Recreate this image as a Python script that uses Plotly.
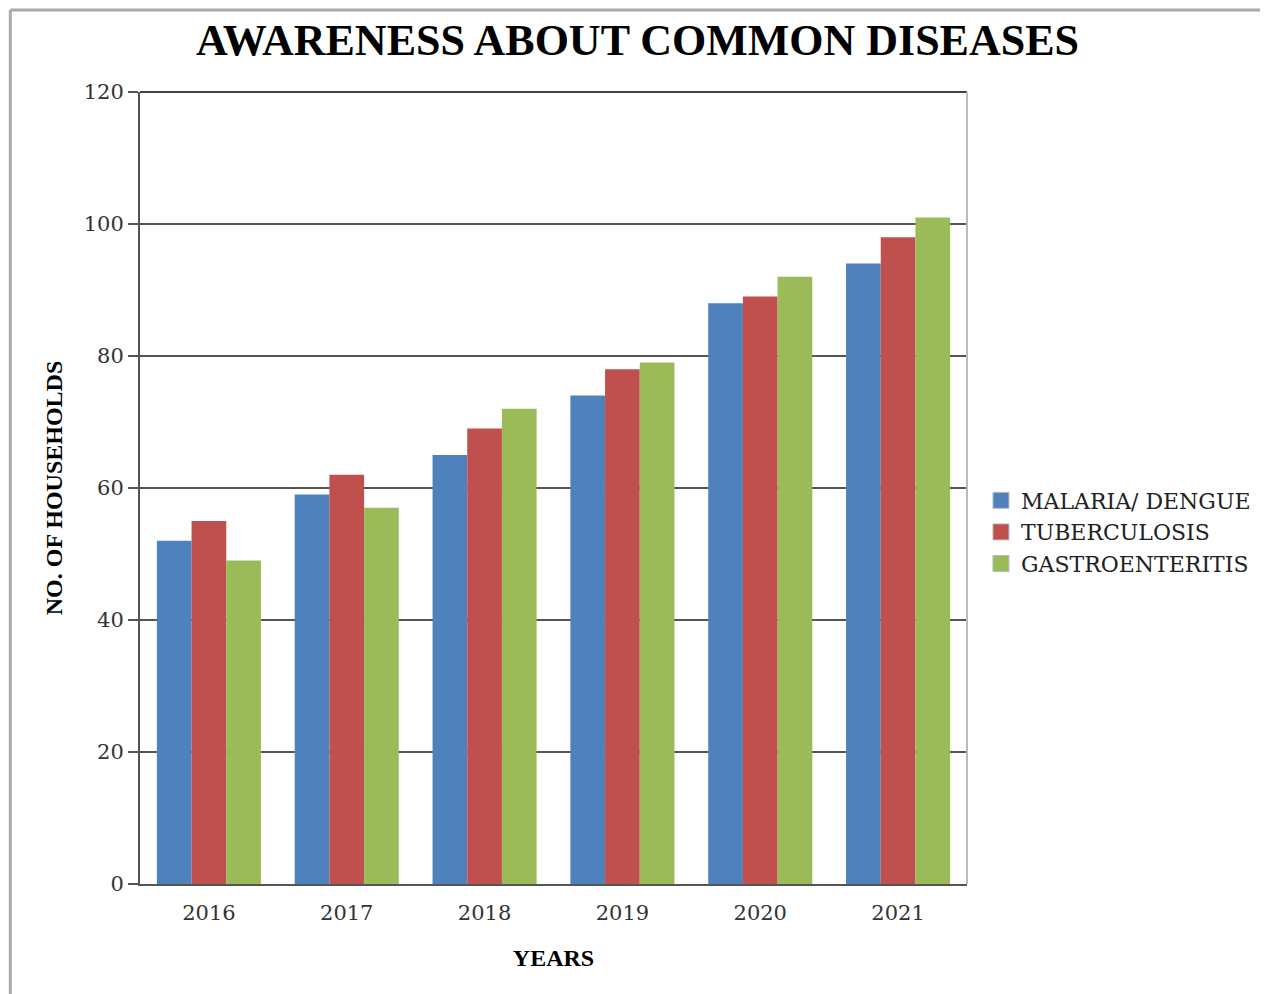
import plotly.graph_objects as go

years = ["2016", "2017", "2018", "2019", "2020", "2021"]
malaria = [52, 59, 65, 74, 88, 94]
tuberculosis = [55, 62, 69, 78, 89, 98]
gastro = [49, 57, 72, 79, 92, 101]
series_names = ["MALARIA/ DENGUE", "TUBERCULOSIS", "GASTROENTERITIS"]
colors = ["#4F81BD", "#C0504D", "#9BBB59"]

W, H = 1260, 986
L, R, T, B = 132, 299, 84, 110
PW, PH = W - L - R, H - T - B

fig = go.Figure()
for name, vals, col in zip(series_names, [malaria, tuberculosis, gastro], colors):
    fig.add_trace(go.Bar(x=years, y=vals, name=name, showlegend=False,
                         marker=dict(color=col, line=dict(width=0))))
# legend entries with larger square swatches
for name, col in zip(series_names, colors):
    fig.add_trace(go.Scatter(x=[None], y=[None], mode="markers", name=name,
                             marker=dict(symbol="square", size=19, color=col,
                                         line=dict(color="#bbb", width=1))))

serif = "DejaVu Serif, serif"
bserif = "Liberation Serif, serif"
fig.update_layout(
    width=W, height=H,
    paper_bgcolor="white", plot_bgcolor="white",
    margin=dict(l=L, r=R, t=T, b=B),
    barmode="group", bargap=0.245, bargroupgap=0,
    title=dict(text="<b>AWARENESS ABOUT COMMON DISEASES</b>", x=629.5 / W, xanchor="center",
               y=1 - 32 / H, yanchor="middle", font=dict(family=bserif, size=44, color="black")),
    font=dict(family=serif, size=22, color="#333"),
    legend=dict(x=(993 - 8 - L - 10) / PW, xanchor="left", y=(H - B - 524) / PH, yanchor="middle",
                font=dict(family=serif, size=22, color="#222"),
                itemwidth=30, tracegroupgap=0, bgcolor="rgba(0,0,0,0)"),
    showlegend=True,
)
fig.update_yaxes(range=[0, 120], dtick=20, showgrid=True, gridcolor="#555", gridwidth=2,
                 showline=True, linecolor="#555", linewidth=2, ticks="outside", ticklen=10,
                 tickcolor="#555", tickwidth=2, zeroline=False,
                 tickfont=dict(family=serif, size=21, color="#333"),
                 title=dict(text="<b>NO. OF HOUSEHOLDS</b>",
                            font=dict(family=bserif, size=24, color="black"), standoff=14))
fig.update_xaxes(showline=True, linecolor="#555", linewidth=2, ticks="", mirror=False,
                 ticklabelstandoff=9,
                 tickfont=dict(family=serif, size=21, color="#333"),
                 title=dict(text="<b>YEARS</b>", font=dict(family=bserif, size=24, color="black"),
                            standoff=25))
# plot frame: top line dark, right line light gray, tick stub at zero
fig.add_shape(type="line", xref="paper", yref="paper", x0=0, x1=1, y0=1, y1=1,
              line=dict(color="#444", width=2))
fig.add_shape(type="line", xref="paper", yref="paper", x0=1, x1=1, y0=0, y1=1,
              line=dict(color="#bbb", width=2))
fig.add_shape(type="line", xref="paper", yref="paper", x0=-10 / PW, x1=0, y0=0, y1=0,
              line=dict(color="#555", width=2))
# outer page frame (left and top edges)
fx, fy = (2 - L) / PW, (H - B - 2) / PH
fig.add_shape(type="line", xref="paper", yref="paper", x0=fx, x1=fx, y0=fy, y1=-(B + 20) / PH,
              line=dict(color="#aaa", width=3), layer="below")
fig.add_shape(type="line", xref="paper", yref="paper", x0=fx, x1=(W - L + 20) / PW, y0=fy, y1=fy,
              line=dict(color="#aaa", width=3), layer="below")

fig.write_html("out.html")
